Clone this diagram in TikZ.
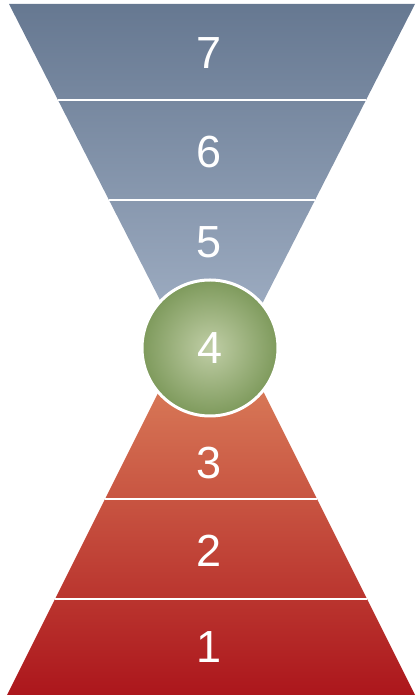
\documentclass[tikz,border=0pt]{standalone}
\usepackage{fontspec}
\setsansfont{Liberation Sans}
\usepackage{xcolor}
\definecolor{slateTop}{RGB}{102,120,145}
\definecolor{slateBot}{RGB}{172,186,206}
\definecolor{redBot}{RGB}{172,22,28}
\definecolor{redMid}{RGB}{202,92,64}
\definecolor{orangeTop}{RGB}{230,152,106}
\definecolor{greenIn}{RGB}{192,206,166}
\definecolor{greenOut}{RGB}{126,154,92}
\tikzset{
  sep/.style={white,line width=2.4pt},
  lbl/.style={white,font=\sffamily\fontsize{45}{45}\selectfont,inner sep=0pt},
  ball/.style={circle,minimum size=136pt,inner sep=0pt,draw=white,line width=3pt,
    inner color=greenIn,outer color=greenOut}
}
\newcommand{\sepline}[3]{\draw[sep] (#1-#3,#2) -- (#1+#3,#2);}

\begin{document}
\begin{tikzpicture}[x=1pt,y=1pt]
\useasboundingbox (0,0) rectangle (416,698);
% upper funnel
\begin{scope}
\clip (9,694) -- (415,694) -- (212,296) -- cycle;
\shade[top color=slateTop,bottom color=slateBot] (0,296) rectangle (416,694);
\end{scope}
\sepline{212}{598}{154}
\sepline{212}{498}{103}
% lower funnel
\begin{scope}
\clip (7,3) -- (415,3) -- (211,411) -- cycle;
\shade[top color=orangeTop,middle color=redMid,bottom color=redBot] (0,3) rectangle (416,411);
\end{scope}
\sepline{211}{99}{156}
\sepline{211}{199}{106}
% labels
\node[lbl] (l7) at (209,645) {7};
\node[lbl] (l6) at (209,546) {6};
\node[lbl] (l5) at (209,456) {5};
\node[ball] (c4) at (210,350) {};
\node[lbl] (l4) at (c4) {4};
\node[lbl] (l3) at (209,235) {3};
\node[lbl] (l2) at (209,147) {2};
\node[lbl] (l1) at (209,51) {1};
\end{tikzpicture}
\end{document}
